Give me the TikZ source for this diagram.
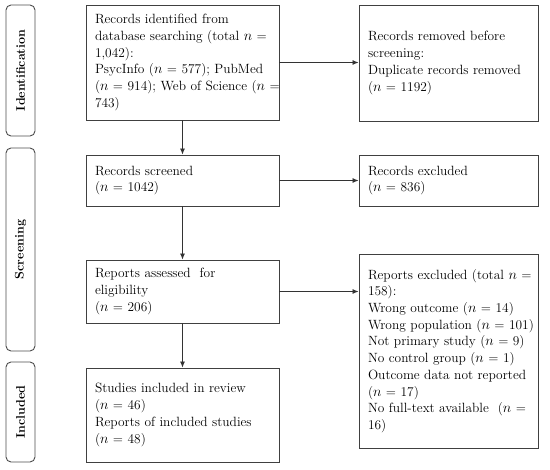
\documentclass[tikz,border=0pt]{standalone}
\usepackage{amsmath}
\usepackage{tikz}
\usetikzlibrary{arrows.meta}

\tikzset{
  box/.style={draw=black!75, line width=0.9pt, inner xsep=9pt, inner ysep=0pt,
    align=left, font=\fontsize{13.4}{16.7}\selectfont,
    execute at begin node={\rightskip=0pt plus 1fil minus 30pt}},
  leftbox/.style={box, text width=175pt},
  rightbox/.style={box, text width=161pt},
  stage/.style={draw=black!70, line width=0.9pt, rounded corners=5pt, rotate=90,
    minimum height=29pt, inner sep=0pt, font=\fontsize{12.5}{14}\selectfont\bfseries},
  flow/.style={draw=black!80, line width=0.8pt, -{Latex[length=6pt,width=5pt]}}
}

\begin{document}
\begin{tikzpicture}[x=1pt,y=-1pt]
\useasboundingbox (0,0) rectangle (550,470);

%Stages on the left
\node[stage, minimum width=131pt] (ident) at (20.5,70.5) {Identification};
\node[stage, minimum width=203pt] (screen) at (20.5,249.5) {Screening};
\node[stage, minimum width=100pt] (incl) at (20.5,412) {Included};

% Main column
\node[leftbox, minimum height=115pt] (records) at (182.5,62.5)
  {Records identified from\\database searching (total $n$ =\\1,042):\\PsycInfo ($n$ = 577); PubMed\\($n$ = 914); Web of Science ($n$ =\\743)};
\node[leftbox, minimum height=51pt] (screened) at (182.5,180.5)
  {Records screened\\($n$ = 1042)};
\node[leftbox, minimum height=63pt] (assessed) at (182.5,291.5)
  {Reports assessed\ \ for\\eligibility\\($n$ = 206)};
\node[leftbox, minimum height=94pt] (studies) at (182.5,415)
  {Studies included in review\\($n$ = 46)\\Reports of included studies\\($n$ = 48)};

% Right column
\node[rightbox, minimum height=116pt] (removed) at (448.5,63)
  {Records removed before\\screening:\\Duplicate records removed\\($n$ = 1192)};
\node[rightbox, minimum height=51pt] (excluded) at (448.5,180.5)
  {Records excluded\\($n$ = 836)};
\node[rightbox, minimum height=194pt] (repexcl) at (448.5,351)
  {Reports excluded (total $n$ =\\158):\\Wrong outcome ($n$ = 14)\\Wrong population ($n$ = 101)\\Not primary study ($n$ = 9)\\No control group ($n$ = 1)\\Outcome data not reported\\($n$ = 17)\\No full-text available\ \ ($n$ =\\16)};

% Arrows down
\draw[flow] (records) -- (screened);
\draw[flow] (screened) -- (assessed);
\draw[flow] (assessed) -- (studies);

% Arrows to the right
\draw[flow] (records.east) -- (records.east -| removed.west);
\draw[flow] (screened.east) -- (screened.east -| excluded.west);
\draw[flow] (assessed.east) -- (assessed.east -| repexcl.west);

\end{tikzpicture}
\end{document}
